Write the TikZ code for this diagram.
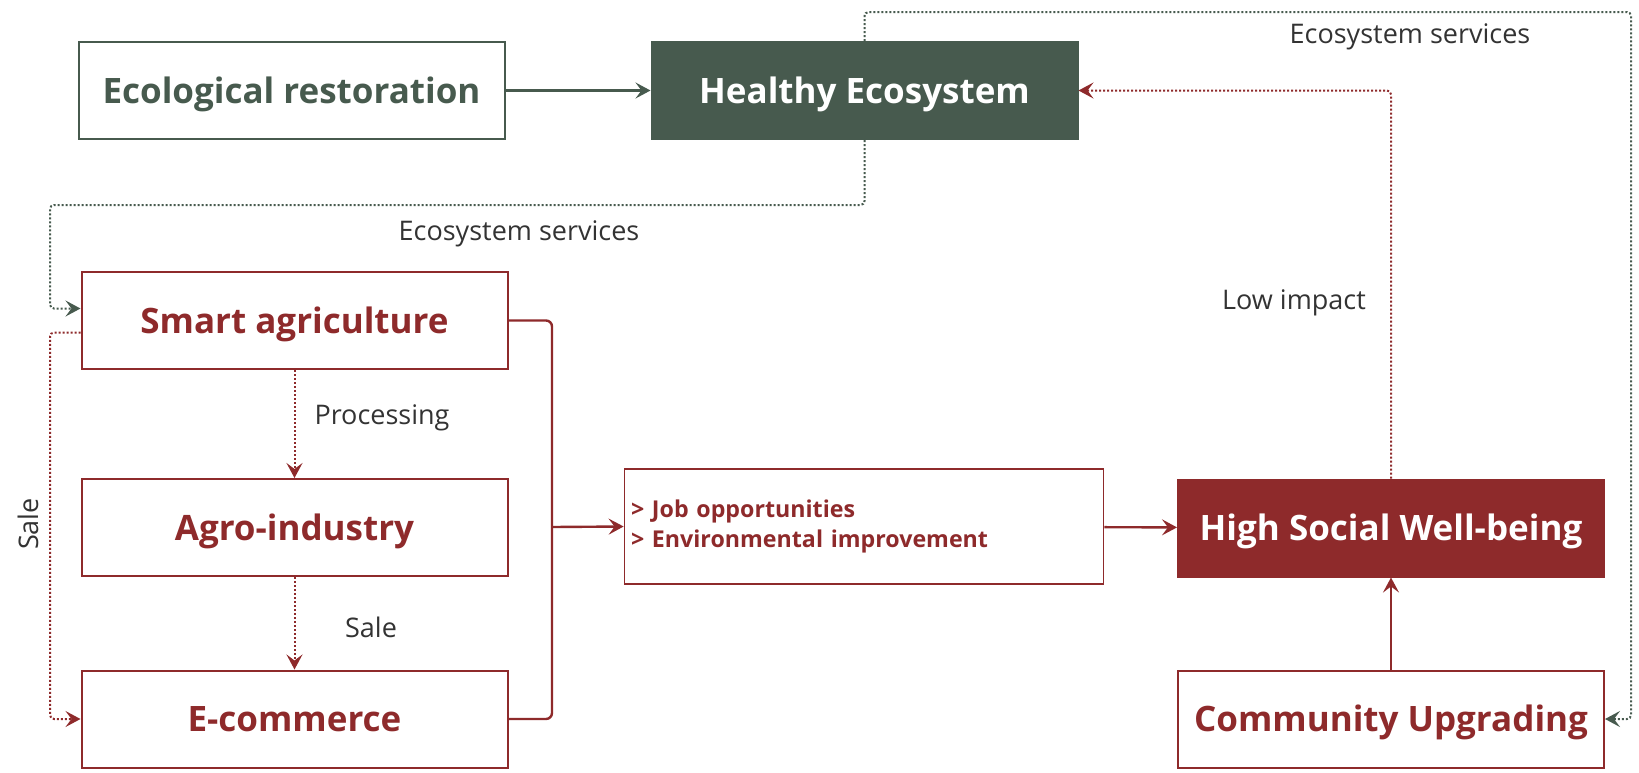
\documentclass[tikz,border=0pt]{standalone}
\usepackage{fontspec}
\setmainfont{Open Sans}
\usetikzlibrary{arrows.meta}
\definecolor{ecogreen}{HTML}{475A4E}
\definecolor{socred}{HTML}{8E2A2B}
\definecolor{txtgray}{HTML}{333333}
\begin{document}
\begin{tikzpicture}[x=0.5pt, y=-0.5pt,
	box/.style={line width=1pt, minimum width=213pt, minimum height=48.5pt, text height=12.5pt, text depth=0pt, font=\fontsize{17.5}{20}\selectfont\bfseries},
	greenbox/.style={box, draw=ecogreen, text=ecogreen},
	redbox/.style={box, draw=socred, text=socred},
	tip/.style={-{Stealth[length=7.5pt, width=8pt, inset=3pt]}},
	gdot/.style={draw=ecogreen, densely dotted, line width=1pt, rounded corners=2pt, tip},
	rdot/.style={draw=socred, densely dotted, line width=1pt, rounded corners=2pt, tip},
	gline/.style={draw=ecogreen, line width=1.2pt},
	rline/.style={draw=socred, line width=1.2pt, rounded corners=3pt},
	note/.style={text=txtgray, font=\fontsize{13.5}{16}\selectfont}]
	\useasboundingbox (0,0) rectangle (1639,772);
	% boxes
	\node[greenbox] (eco) at (291.5,90.5) {Ecological restoration};
	\node[box, fill=ecogreen, draw=ecogreen, text=white] (healthy) at (864.5,90.5) {Healthy Ecosystem};
	\node[redbox] (smart) at (294.5,320.5) {Smart agriculture};
	\node[redbox] (agro) at (294.5,527.5) {Agro-industry};
	\node[redbox] (ecom) at (294.5,719) {E-commerce};
	\node[draw=socred, line width=0.7pt, minimum width=239pt, minimum height=57.5pt, text=socred, font=\fontsize{11.6}{15}\selectfont\bfseries, align=left, text width=233pt] (job) at (864,526.5) {> Job opportunities\\> Environmental improvement};
	\node[box, fill=socred, draw=socred, text=white] (high) at (1391,528) {High Social Well-being};
	\node[redbox] (comm) at (1391,719) {Community Upgrading};
	% labels
	\node[note] (es1) at (519,234) {Ecosystem services};
	\node[note] (es2) at (1410,37) {Ecosystem services};
	\node[note] (low) at (1294,303) {Low impact};
	\node[note] (proc) at (382,418) {Processing};
	\node[note] (sale1) at (371,627) {Sale};
	\node[note, rotate=90] (sale2) at (28,524) {Sale};
	\coordinate (split) at (552,527);
	% connectors
	\draw[gline, tip] (eco) -- (healthy);
	\draw[gdot] (healthy.south) |- (50,205) |- ([yshift=6pt]smart.west);
	\draw[gdot] (healthy.north) |- (1631,12) |- (comm.east);
	\draw[rdot] (high.north) |- (healthy.east);
	\draw[rdot] (smart) -- (agro);
	\draw[rdot] (agro) -- (ecom);
	\draw[rdot] ([yshift=-6pt]smart.west) -| (50,600) |- (ecom.west);
	\draw[rline] (smart.east) -| (552,719) -- (ecom.east);
	\draw[rline, tip] (split) -- (job.west);
	\draw[rline, tip] (job) -- (high);
	\draw[rline, tip] (comm) -- (high);
\end{tikzpicture}
\end{document}
